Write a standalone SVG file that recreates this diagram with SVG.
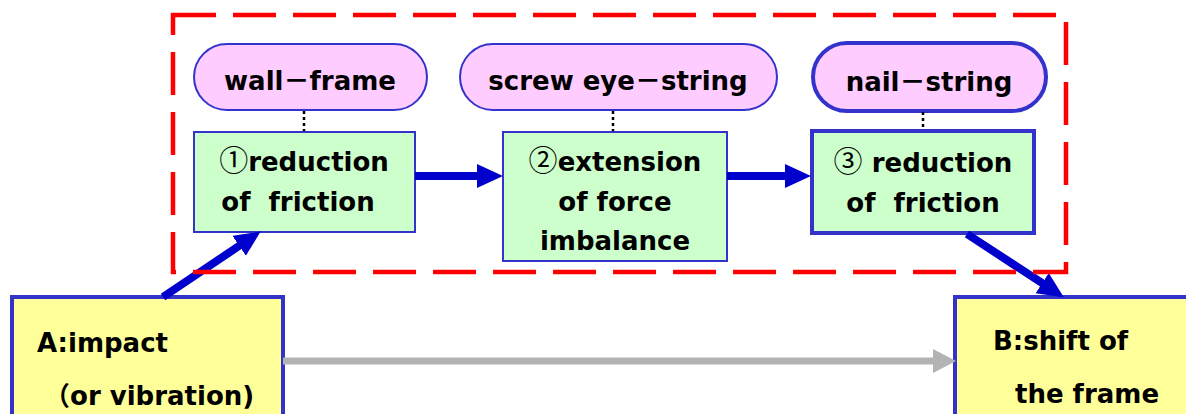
<svg xmlns="http://www.w3.org/2000/svg" width="1186" height="414" viewBox="0 0 1186 414">
<style>
text{font-family:"DejaVu Sans","Noto Sans CJK JP",sans-serif;font-weight:bold;font-size:26px;fill:#000;white-space:pre}
.cjk{font-family:"Noto Sans CJK JP",sans-serif}
.num{font-family:"Noto Sans CJK JP",sans-serif;font-weight:normal;font-size:29px}
.pill{fill:#ffccff;stroke:#3333cc;stroke-width:2}
.pill.thick{stroke-width:4}
.box{fill:#ccffcc;stroke:#3333cc;stroke-width:2}
.box.thick{stroke-width:4}
.term{fill:#ffff99;stroke:#3333cc;stroke-width:4}
.dot{stroke:#000;stroke-width:2.5;stroke-dasharray:3 3}
.blue{stroke:#0000cc;stroke-width:8;fill:none;marker-end:url(#bh)}
.gray{stroke:#b3b3b3;stroke-width:7;fill:none;marker-end:url(#gh)}
.mid{text-anchor:middle}
</style>
<defs>
<marker id="bh" markerUnits="userSpaceOnUse" markerWidth="28" markerHeight="26" refX="1" refY="12" orient="auto"><path d="M0,0 L26,12 L0,24 Z" fill="#0000cc"/></marker>
<marker id="gh" markerUnits="userSpaceOnUse" markerWidth="24" markerHeight="26" refX="1" refY="12" orient="auto"><path d="M0,0 L23,12 L0,24 Z" fill="#b3b3b3"/></marker>
</defs>
<g id="A"><rect class="term" x="12" y="297" width="271" height="140"/><text x="37" y="352">A:impact</text><text x="44" y="405"><tspan class="cjk">（</tspan>or vibration)</text></g>
<g id="B"><rect class="term" x="955" y="297" width="260" height="140"/><text x="993" y="350">B:shift of</text><text x="1015" y="403">the frame</text></g>
<g id="p1"><rect class="pill" x="194" y="44" width="233" height="66" rx="33"/><text class="mid" x="310" y="90">wall<tspan class="cjk">－</tspan>frame</text></g>
<g id="p2"><rect class="pill" x="460" y="44" width="317" height="66" rx="33"/><text class="mid" x="618" y="90">screw eye<tspan class="cjk">－</tspan>string</text></g>
<g id="p3"><rect class="pill thick" x="813" y="43" width="233" height="68" rx="34"/><text class="mid" x="929" y="91">nail<tspan class="cjk">－</tspan>string</text></g>
<g id="b1"><rect class="box" x="194" y="132" width="221" height="100"/><text class="mid" x="304" y="171"><tspan class="num">①</tspan>reduction</text><text class="mid" x="298" y="211">of  friction</text></g>
<g id="b2"><rect class="box" x="503" y="132" width="224" height="129"/><text class="mid" x="615" y="171"><tspan class="num">②</tspan>extension</text><text class="mid" x="615" y="211">of force</text><text class="mid" x="615" y="250">imbalance</text></g>
<g id="b3"><rect class="box thick" x="812" y="131" width="222" height="102"/><text class="mid" x="923" y="172"><tspan class="num">③</tspan> reduction</text><text class="mid" x="923" y="212">of  friction</text></g>
<g id="connectors">
<line class="dot" x1="304" y1="111" x2="304" y2="131"/>
<line class="dot" x1="613" y1="111" x2="613" y2="131"/>
<line class="dot" x1="923" y1="112" x2="923" y2="129"/>
<line class="blue" x1="415" y1="176" x2="478" y2="176"/>
<line class="blue" x1="727" y1="176" x2="786" y2="176"/>
<line class="blue" x1="163" y1="297" x2="240" y2="245.3"/>
<line class="blue" x1="967" y1="234" x2="1043" y2="283.7"/>
<line class="gray" x1="283" y1="361" x2="934" y2="361"/>
</g>
<rect x="173" y="15" width="893" height="257" fill="none" stroke="#ff0000" stroke-width="4.5" stroke-dasharray="43 17"/>
</svg>
